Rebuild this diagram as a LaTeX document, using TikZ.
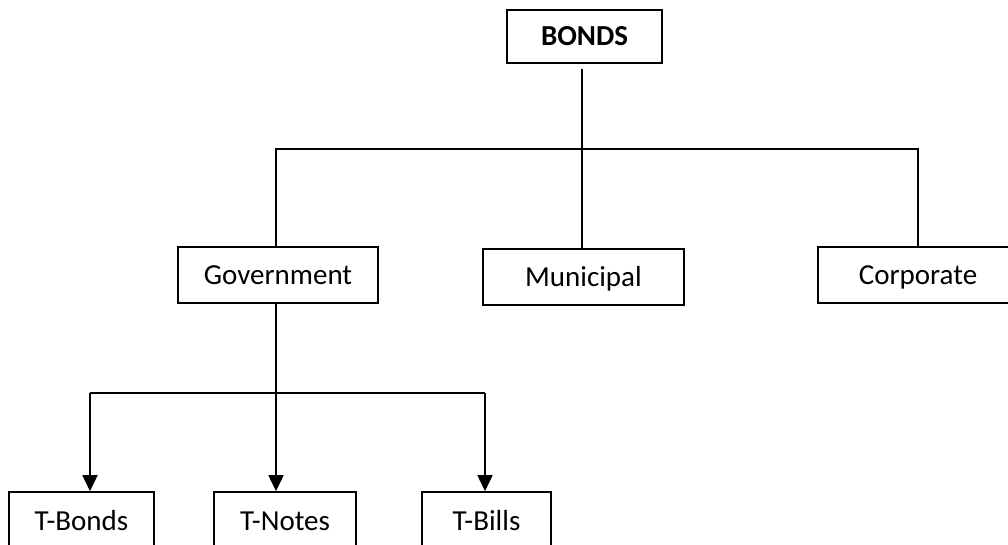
\documentclass[tikz,border=0pt]{standalone}
\usepackage{fontspec}
\setmainfont{Carlito}
\usetikzlibrary{arrows.meta}
\tikzset{
  box/.style={draw, line width=1.6pt, fill=white, inner sep=0pt, font=\fontsize{29}{32}\selectfont, align=center, text height=18.7pt, text depth=0pt},
  conn/.style={line width=1.6pt},
  arr/.style={line width=1.6pt, -{Triangle[length=16pt,width=15pt]}}
}
\begin{document}
\begin{tikzpicture}[x=1pt,y=-1pt]
\useasboundingbox (0,0) rectangle (1008,544);
\clip (0,0) rectangle (1008,544);
\node[box, minimum width=155pt, minimum height=53pt, font=\fontsize{29}{32}\selectfont\bfseries] (bonds) at (584.5,36.5) {BONDS};
\node[box, minimum width=200pt, minimum height=56pt] (gov) at (278,275) {Government};
\node[box, minimum width=201pt, minimum height=56pt] (muni) at (583.5,277) {Municipal};
\node[box, minimum width=200pt, minimum height=56pt] (corp) at (918,275) {Corporate};
\node[box, minimum width=145pt, minimum height=58pt] (tb) at (81.5,521) {T-Bonds};
\node[box, minimum width=142pt, minimum height=58pt] (tn) at (285,521) {T-Notes};
\node[box, minimum width=129pt, minimum height=58pt] (tbl) at (486.5,521) {T-Bills};
\coordinate (hub) at (582,149);
\coordinate (hl) at (276,149);
\coordinate (hr) at (918,149);
\coordinate (lhub) at (276,393);
\coordinate (ll) at (90,393);
\coordinate (lr) at (485,393);
\draw[conn, shorten <=5pt] (bonds.south -| hub) -- (hub);
\draw[conn] (gov.north -| hl) -- (hl) -- (hr) -- (corp.north -| hr);
\draw[conn] (hub) -- (muni.north -| hub);
\draw[conn] (gov.south -| lhub) -- (lhub);
\draw[conn] (ll) -- (lr);
\draw[arr] (ll) -- (tb.north -| ll);
\draw[arr] (lhub) -- (tn.north -| lhub);
\draw[arr] (lr) -- (tbl.north -| lr);
\end{tikzpicture}
\end{document}
